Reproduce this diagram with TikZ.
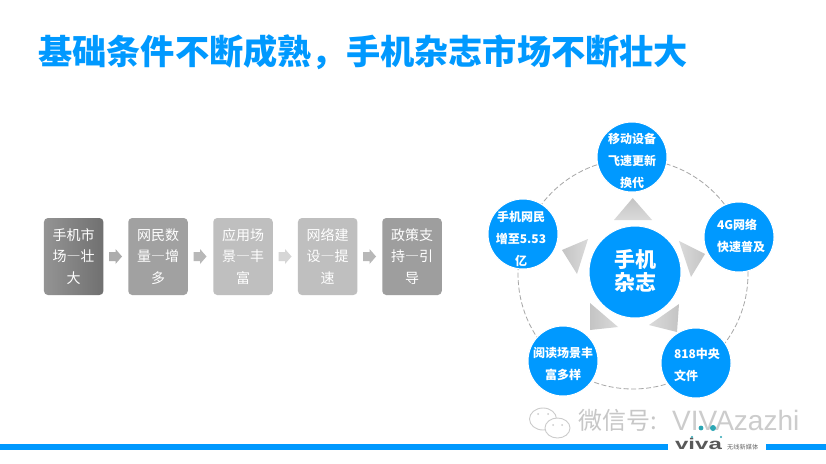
\documentclass[tikz,border=0pt]{standalone}
\usepackage{fontspec}
\setmainfont{Noto Sans CJK SC}
\newfontfamily\latinwm{Liberation Sans}
\newcommand{\zdash}{{\addfontfeatures{RawFeature=+fwid}—}}
\definecolor{vblue}{HTML}{0099FF}
\definecolor{vteal}{HTML}{2CA6B4}
\definecolor{wedgeA}{HTML}{C4C4C4}
\definecolor{wedgeB}{HTML}{DADADA}
\tikzset{
  stepbox/.style={rounded corners=4pt,minimum width=59.5pt,minimum height=77pt,inner sep=0pt,text=white,align=center,
    font=\fontsize{14}{21.5}\selectfont},
  bubble/.style={circle,fill=vblue,draw=white,line width=1pt,minimum size=70pt,inner sep=0pt},
  bubbletext/.style={inner sep=0pt,text=white,font=\bfseries\fontsize{12}{22}\selectfont},
  wmchat/.style={draw=black!20,fill=white,line width=.9pt},
  flowarrow/.pic={\path[pic actions] (-6.5,-4.5) -- (0,-4.5) -- (0,-7.5) -- (6.5,0) -- (0,7.5) -- (0,4.5) -- (-6.5,4.5) -- cycle;},
}
\begin{document}
\begin{tikzpicture}[x=1pt,y=-1pt]
\useasboundingbox (0,0) rectangle (826,463);
\fill[white] (0,0) rectangle (826,463);
\node[anchor=west,text=vblue,inner sep=0pt,font=\bfseries\fontsize{34.2}{36}\selectfont] (title) at (38,52) {基础条件不断成熟，手机杂志市场不断壮大};

% process row
\node[stepbox,left color=black!42,right color=black!56] (s1) at (73.7,256.5) {手机市\\场\zdash 壮\\大};
\node[stepbox,fill=black!37] (s2) at (158,256.5) {网民数\\量\zdash 增\\多};
\node[stepbox,fill=black!25] (s3) at (243,256.5) {应用场\\景\zdash 丰\\富};
\node[stepbox,fill=black!25] (s4) at (327.7,256.5) {网络建\\设\zdash 提\\速};
\node[stepbox,fill=black!38] (s5) at (412,256.5) {政策支\\持\zdash 引\\导};
\pic[fill=black!32] at (115.5,256.5) {flowarrow};
\pic[fill=black!28] at (200,256.5) {flowarrow};
\pic[fill=black!16] at (285,256.5) {flowarrow};
\pic[fill=black!28] at (369.5,256.5) {flowarrow};

% ring
\coordinate (hub) at (633,274);
\draw[black!35,line width=.8pt,dash pattern=on 5pt off 2.5pt] (hub) circle (115pt);
\node[bubble] (top) at (632,157) {};
\node[bubble] (right) at (739,237) {};
\node[bubble] (br) at (696,363) {};
\node[bubble] (bl) at (563,361) {};
\node[bubble] (left) at (523,234) {};
\node[bubble,minimum size=92pt] (centre) at (635,272) {};
\node[bubbletext,align=center] (toptxt) at (632,161) {移动设备\\飞速更新\\换代};
\node[bubbletext,align=left] (righttxt) at (741,236) {4G网络\\快速普及};
\node[bubbletext,align=left] (brtxt) at (697,364.5) {818中央\\文件};
\node[bubbletext,align=center] (bltxt) at (563,364) {阅读场景丰\\富多样};
\node[bubbletext,align=center] (lefttxt) at (521,239) {手机网民\\增至5.53\\亿};
\node[bubbletext,align=center,font=\bfseries\fontsize{21}{23.5}\selectfont] (centretxt) at (635,271) {手机\\杂志};

% wedges
\shade[top color=wedgeA,bottom color=wedgeB] (632.7,198) -- (614,220) -- (652,220) -- cycle;
\shade[left color=wedgeB,right color=wedgeA] (679,241) -- (705,254) -- (691,277) -- cycle;
\shade[left color=wedgeB,right color=wedgeA] (679,304) -- (649,325) -- (677,332) -- cycle;
\shade[left color=wedgeA,right color=wedgeB] (590,303) -- (618,327) -- (590,330) -- cycle;
\shade[left color=wedgeA,right color=wedgeB] (588,239) -- (562,250) -- (577,274) -- cycle;

% bottom bar
\fill[vblue] (0,444) rectangle (668,450);
\fill[vblue] (766,444) rectangle (826,450);

% watermark
\draw[wmchat] (543,419) ellipse (13.5pt and 11pt);
\draw[wmchat] (557.5,428) ellipse (12.5pt and 10pt);
\fill[black!20] (538,414) circle (1pt) (548,414) circle (1pt) (553,425) circle (1pt) (562,425) circle (1pt);
\node[anchor=west,inner sep=0pt,text=black!22,font=\fontsize{24}{26}\selectfont] (wm) at (578,420) {微信号:};
\node[anchor=west,inner sep=0pt,text=black!20,font=\latinwm\fontsize{28}{30}\selectfont] (wm2) at (672,420) {VIVAzazhi};
\fill[vteal] (701,428) circle (2.4pt) (713,428) circle (3pt);

% logo
\node[anchor=center,inner sep=0pt,text=black!65,font=\latinwm\bfseries\fontsize{15.5}{16}\selectfont] (logo) at (698.5,443.5) {\scalebox{1.55}[1]{viva}};
\fill[vteal] (692,437) circle (1.2pt) (721,437) circle (1.2pt);
\node[anchor=west,inner sep=0pt,text=black!60,font=\fontsize{6.2}{7}\selectfont] (logot) at (727,447) {无线新媒体};
\end{tikzpicture}
\end{document}
